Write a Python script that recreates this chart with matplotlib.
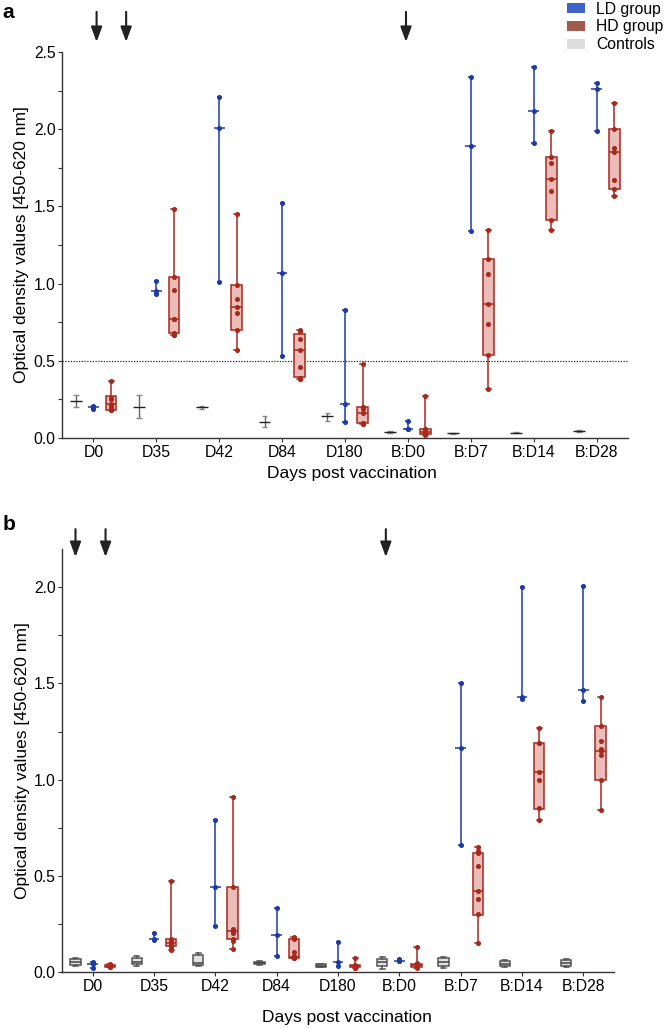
import matplotlib
matplotlib.use('Agg')
import matplotlib.pyplot as plt
import numpy as np
from matplotlib.patches import Patch
from matplotlib.ticker import MultipleLocator

plt.rcParams['font.family'] = ['Liberation Sans', 'DejaVu Sans']

days = ['D0', 'D35', 'D42', 'D84', 'D180', 'B:D0', 'B:D7', 'B:D14', 'B:D28']

# ---------------- Panel a ----------------
ctrl_a_min = [0.20, 0.13, 0.19, 0.07, 0.11, 0.03, 0.025, 0.03, 0.04]
ctrl_a_med = [0.24, 0.20, 0.20, 0.105, 0.14, 0.037, 0.03, 0.035, 0.045]
ctrl_a_max = [0.28, 0.28, 0.21, 0.14, 0.165, 0.045, 0.035, 0.04, 0.05]

ld_a = [[0.21, 0.20, 0.19], [1.02, 0.95, 0.93], [2.21, 2.01, 1.01],
        [1.52, 1.07, 0.53], [0.83, 0.22, 0.105], [0.11, 0.06, 0.058],
        [2.34, 1.89, 1.34], [2.40, 2.12, 1.91], [2.30, 2.26, 1.99]]

hd_a = [[0.37, 0.26, 0.25, 0.22, 0.21, 0.18, 0.18, 0.19],
        [1.48, 1.04, 0.96, 0.77, 0.77, 0.68, 0.67, 0.67],
        [1.45, 0.99, 0.90, 0.85, 0.81, 0.70, 0.57],
        [0.70, 0.69, 0.64, 0.57, 0.46, 0.39, 0.38, 0.38],
        [0.48, 0.20, 0.19, 0.16, 0.10, 0.10, 0.09, 0.09],
        [0.27, 0.06, 0.06, 0.05, 0.04, 0.03, 0.03, 0.02],
        [1.35, 1.16, 1.06, 0.87, 0.74, 0.54, 0.32],
        [1.99, 1.82, 1.78, 1.68, 1.60, 1.41, 1.35],
        [2.17, 2.00, 1.88, 1.85, 1.67, 1.61, 1.57]]
hd_a_q1 = [0.18, 0.68, 0.70, 0.395, 0.095, 0.026, 0.54, 1.41, 1.61]
hd_a_med = [0.22, 0.77, 0.85, 0.57, 0.16, 0.04, 0.87, 1.68, 1.85]
hd_a_q3 = [0.27, 1.04, 0.99, 0.675, 0.20, 0.06, 1.16, 1.82, 2.00]

# ---------------- Panel b ----------------
ctrl_b_min = [0.03, 0.03, 0.03, 0.035, 0.025, 0.015, 0.02, 0.025, 0.025]
ctrl_b_q1 = [0.035, 0.04, 0.035, 0.038, 0.027, 0.03, 0.03, 0.03, 0.03]
ctrl_b_med = [0.05, 0.05, 0.045, 0.045, 0.03, 0.05, 0.05, 0.04, 0.045]
ctrl_b_q3 = [0.065, 0.07, 0.085, 0.052, 0.038, 0.065, 0.07, 0.055, 0.06]
ctrl_b_max = [0.07, 0.08, 0.095, 0.055, 0.04, 0.075, 0.075, 0.06, 0.065]

ld_b = [[0.05, 0.04, 0.02], [0.20, 0.17, 0.165], [0.79, 0.44, 0.24],
        [0.33, 0.19, 0.08], [0.156, 0.052, 0.03], [0.065, 0.055, 0.055],
        [1.50, 1.165, 0.66], [2.00, 1.43, 1.42], [2.01, 1.465, 1.41]]

hd_b = [[0.04, 0.035, 0.03, 0.03, 0.03, 0.025, 0.025],
        [0.47, 0.17, 0.16, 0.15, 0.15, 0.14, 0.13, 0.115],
        [0.91, 0.44, 0.22, 0.21, 0.20, 0.17, 0.16, 0.12],
        [0.18, 0.17, 0.10, 0.08, 0.075, 0.07, 0.07],
        [0.07, 0.035, 0.03, 0.03, 0.025, 0.02, 0.02],
        [0.13, 0.045, 0.04, 0.035, 0.03, 0.03, 0.02],
        [0.65, 0.63, 0.62, 0.55, 0.42, 0.38, 0.30, 0.15],
        [1.27, 1.19, 1.19, 1.04, 1.00, 0.85, 0.79],
        [1.43, 1.28, 1.20, 1.16, 1.15, 1.13, 1.00, 0.84]]
hd_b_q1 = [0.025, 0.135, 0.17, 0.07, 0.022, 0.025, 0.295, 0.845, 1.00]
hd_b_med = [0.03, 0.15, 0.21, 0.075, 0.03, 0.035, 0.42, 1.04, 1.15]
hd_b_q3 = [0.035, 0.17, 0.44, 0.17, 0.035, 0.04, 0.62, 1.19, 1.28]

arrows_a = [0.05, 0.52, 4.97]
arrows_b = [-0.28, 0.21, 4.78]

legend_labels = ['LD group', 'HD group', 'Controls']
legend_colors = ['#3d62c8', '#a05a50', '#dcdcdc']

BLUE = '#1c3aa9'
RED = '#a8281c'
PINK = '#ebbcb8'
FS_TICK = 11.3
FS_LAB = 12.5

fig = plt.figure(figsize=(6.65, 10.29), dpi=100)
axA = fig.add_axes([62/665, 1-438/1029, (628-62)/665, (438-52)/1029])
axB = fig.add_axes([62/665, 1-971.7/1029, (614-62)/665, (971.7-549)/1029])

OFF = 0.28


def draw_ld(ax, ld):
    for i, vals in enumerate(ld):
        v = sorted(vals)
        ax.vlines(i, v[0], v[-1], color=BLUE, lw=1.1, zorder=3)
        ax.hlines([v[0], v[-1]], i - 0.04, i + 0.04, color=BLUE, lw=1.1, zorder=3)
        ax.hlines(v[len(v)//2], i - 0.085, i + 0.085, color=BLUE, lw=1.1, zorder=3)
        ax.plot([i]*len(v), v, 'o', color=BLUE, ms=2.6, zorder=4)


def draw_hd(ax, hd, q1, med, q3):
    stats = []
    for j, pts in enumerate(hd):
        stats.append(dict(med=med[j], q1=q1[j], q3=q3[j],
                          whislo=min(pts), whishi=max(pts), fliers=[]))
    pos = np.arange(len(hd)) + OFF
    ax.bxp(stats, positions=pos, widths=0.17, patch_artist=True,
           showfliers=False, capwidths=0.08,
           boxprops=dict(facecolor=PINK, edgecolor=RED, lw=1.1),
           whiskerprops=dict(color=RED, lw=1.1),
           capprops=dict(color=RED, lw=1.1),
           medianprops=dict(color=RED, lw=1.1), manage_ticks=False, zorder=3)
    for j, pts in enumerate(hd):
        ax.plot([pos[j]]*len(pts), pts, 'o', color=RED, ms=2.6, zorder=4)


def style(ax, ylim, xlabel_y, xlabel_x):
    ax.set_xlim(-0.5, 8.5)
    ax.set_ylim(*ylim)
    ax.set_xticks(np.arange(len(days)))
    ax.set_xticklabels(days, fontsize=FS_TICK)
    ax.yaxis.set_major_locator(MultipleLocator(0.5))
    ax.yaxis.set_minor_locator(MultipleLocator(0.25))
    ax.yaxis.set_major_formatter(matplotlib.ticker.FormatStrFormatter('%.1f'))
    ax.tick_params(axis='y', labelsize=FS_TICK, length=3, width=0.8, pad=1.5, color='#333333')
    ax.tick_params(axis='y', which='minor', length=3, width=0.8, color='#333333')
    ax.tick_params(axis='x', length=3, width=0.8, pad=2, color='#333333')
    for s in ['top', 'right']:
        ax.spines[s].set_visible(False)
    for s in ['left', 'bottom']:
        ax.spines[s].set_linewidth(1.0)
        ax.spines[s].set_color('#333333')
    ax.set_ylabel('Optical density values [450-620 nm]', fontsize=FS_LAB)
    ax.yaxis.set_label_coords(-0.058, 0.5)
    ax.set_xlabel('Days post vaccination', fontsize=FS_LAB)
    ax.xaxis.set_label_coords(xlabel_x, xlabel_y)


def arrows(ax, xs, y_tail, y_tip):
    for xd in xs:
        ax.annotate('', xy=(xd, y_tip), xycoords=('data', 'axes fraction'),
                    xytext=(xd, y_tail), textcoords=('data', 'axes fraction'),
                    arrowprops=dict(arrowstyle='-|>,head_width=0.33,head_length=0.9',
                                    color='#222222', lw=1.5, mutation_scale=10,
                                    shrinkA=0, shrinkB=0),
                    annotation_clip=False)


# ---- Panel a ----
x = np.arange(len(days))
cx = x - OFF
axA.vlines(cx, ctrl_a_min, ctrl_a_max, color='#666666', lw=1.0, zorder=3)
axA.hlines(ctrl_a_min, cx - 0.045, cx + 0.045, color='#888888', lw=1.0, zorder=3)
axA.hlines(ctrl_a_max, cx - 0.045, cx + 0.045, color='#888888', lw=1.0, zorder=3)
axA.hlines(ctrl_a_med, cx - 0.095, cx + 0.095, color='#222222', lw=1.0, zorder=3)
draw_ld(axA, ld_a)
draw_hd(axA, hd_a, hd_a_q1, hd_a_med, hd_a_q3)
axA.axhline(0.5, ls=(0, (1, 1.2)), color='#222222', lw=0.9, zorder=1)
style(axA, (0, 2.5), -0.072, 0.513)
arrows(axA, arrows_a, 1.104, 1.026)

# ---- Panel b ----
cstats = [dict(med=ctrl_b_med[j], q1=ctrl_b_q1[j], q3=ctrl_b_q3[j],
               whislo=ctrl_b_min[j], whishi=ctrl_b_max[j], fliers=[])
          for j in range(len(days))]
axB.bxp(cstats, positions=x - OFF, widths=0.17, patch_artist=True,
        showfliers=False, capwidths=0.08,
        boxprops=dict(facecolor='#e2e2e2', edgecolor='#555555', lw=1.1),
        whiskerprops=dict(color='#555555', lw=1.1),
        capprops=dict(color='#555555', lw=1.1),
        medianprops=dict(color='#444444', lw=1.1), manage_ticks=False, zorder=3)
draw_ld(axB, ld_b)
draw_hd(axB, hd_b, hd_b_q1, hd_b_med, hd_b_q3)
style(axB, (0, 2.2), -0.090, 0.517)
arrows(axB, arrows_b, 1.047, 0.981)

# legend
handles = [Patch(facecolor=c, edgecolor='none') for c in legend_colors]
fig.legend(handles, legend_labels, loc='upper left', bbox_to_anchor=(0.852, 0.9985),
           frameon=False, fontsize=FS_TICK, handlelength=1.2, handleheight=0.6,
           labelspacing=0.18, handletextpad=0.7, borderpad=0, borderaxespad=0)

fig.text(0.004, 1 - 18/1029, 'a', fontsize=15, fontweight='bold', va='baseline')
fig.text(0.004, 1 - 530/1029, 'b', fontsize=15, fontweight='bold', va='baseline')

fig.savefig('out.png', dpi=100)
